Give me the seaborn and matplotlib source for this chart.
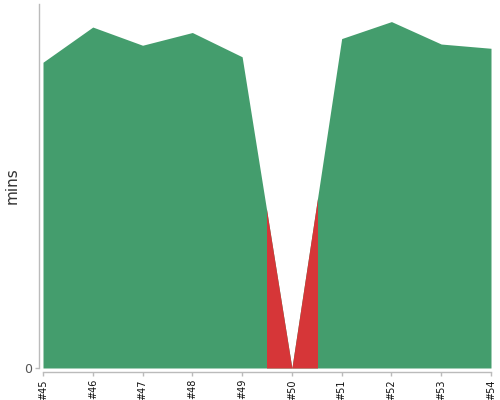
import numpy as np
import pandas as pd
import matplotlib
matplotlib.use("Agg")
import matplotlib.pyplot as plt
import matplotlib.patches as mpatches
import seaborn as sns

# build numbers and their durations (mins)
builds = [45, 46, 47, 48, 49, 50, 51, 52, 53, 54]
build_labels = ["#45", "#46", "#47", "#48", "#49", "#50", "#51", "#52", "#53", "#54"]
durations = [50.4, 56.2, 53.2, 55.3, 51.3, 0.0, 54.3, 57.1, 53.4, 52.7]
failed_builds = [50]

green = "#449d6d"
red = "#d63638"

df = pd.DataFrame({"build": builds, "mins": durations})

sns.set_style("white")
fig = plt.figure(figsize=(5, 4), dpi=100)
ax = fig.add_axes([0.086, 0.08, 0.896, 0.91])

sns.lineplot(data=df, x="build", y="mins", color=green, linewidth=0, ax=ax)
ax.fill_between(df["build"], df["mins"], 0, color=green, linewidth=0)

# failed builds drawn in red, within half a step each side
for b in failed_builds:
    red_fill = ax.fill_between(df["build"], df["mins"], 0, color=red, linewidth=0, zorder=3)
    clip = mpatches.Rectangle((b - 0.5, 0), 1.0, 100, transform=ax.transData)
    red_fill.set_clip_path(clip)

ax.set_xlim(45, 54)
ax.set_ylim(0, 60)
ax.set_xticks(builds, build_labels)
ax.set_yticks([0], ["0"])
ax.set_xlabel("")
ax.set_ylabel("mins", fontsize=11, color="#333333", labelpad=3)

sns.despine(ax=ax, offset=3)
for s in ["left", "bottom"]:
    ax.spines[s].set_color("#bbbbbb")
    ax.spines[s].set_linewidth(1)
ax.tick_params(axis="both", which="both", length=3, width=1, color="#bbbbbb", pad=2)
ax.tick_params(axis="x", bottom=True, labelrotation=90, labelsize=7, labelcolor="#111111")
ax.tick_params(axis="y", left=True, labelsize=9, labelcolor="#555555")

fig.savefig("out.png", dpi=100)
